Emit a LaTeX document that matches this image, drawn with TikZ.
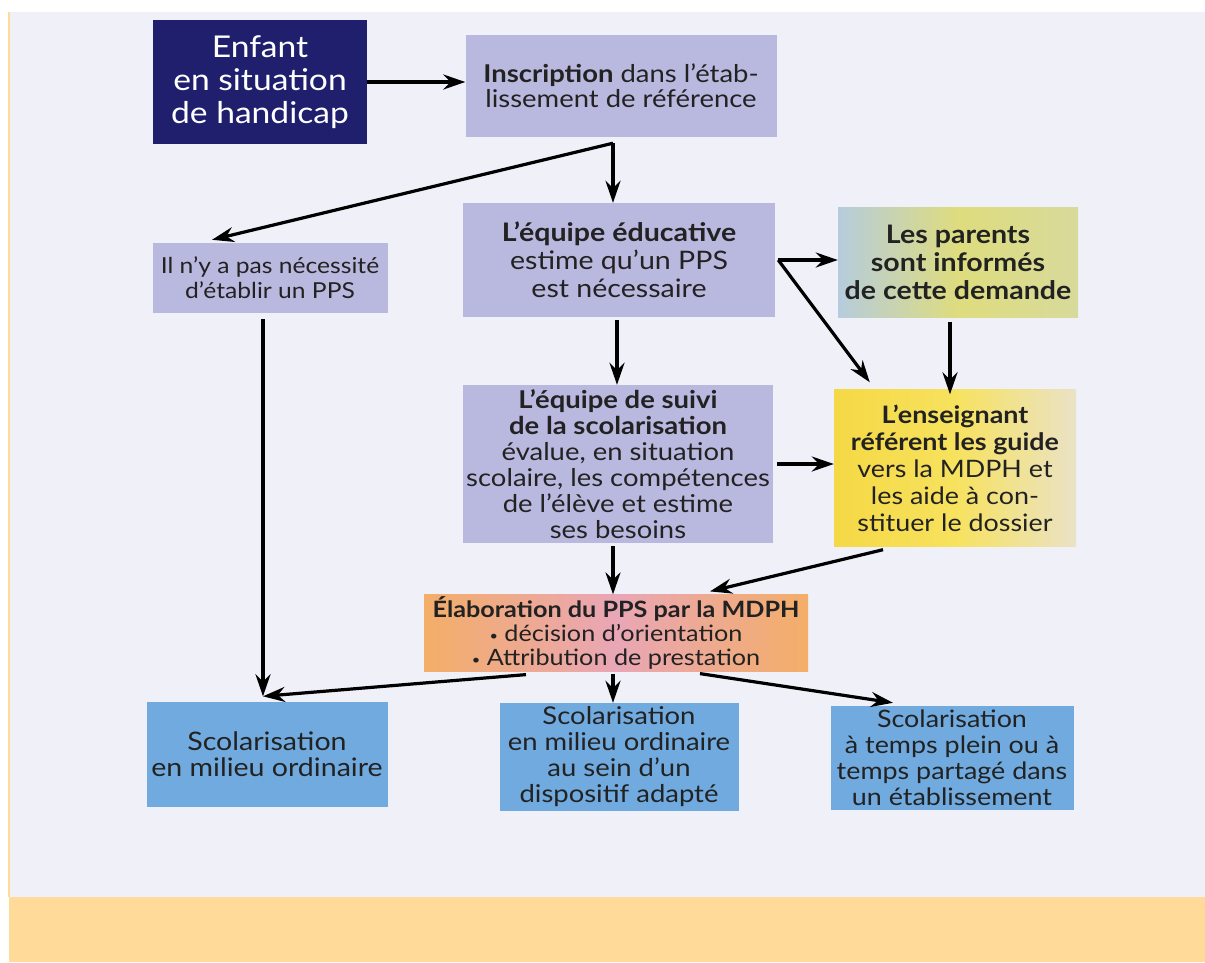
\documentclass[tikz,border=0pt]{standalone}
\usepackage{fontspec}
\setmainfont{Lato}[FakeStretch=1.12]
\usepackage{tikz}
\usetikzlibrary{arrows.meta,positioning,calc}

\definecolor{fond}{HTML}{F0F0F8}
\definecolor{bande}{HTML}{FFDA98}
\definecolor{marine}{HTML}{201F6E}
\definecolor{lavande}{HTML}{B9B8DF}
\definecolor{bleu}{HTML}{70AADE}
\definecolor{texte}{HTML}{222222}
\definecolor{ciel}{HTML}{B6CCDC}
\definecolor{anis}{HTML}{DEDC7E}
\definecolor{paille}{HTML}{D8DA9C}
\definecolor{jaune}{HTML}{F5D845}
\definecolor{jauneclair}{HTML}{F7E25E}
\definecolor{beige}{HTML}{EAE2C6}
\definecolor{orangé}{HTML}{F3AE68}
\definecolor{rose}{HTML}{E9A6B6}

\tikzset{
	boite/.style={rectangle, inner sep=2pt, align=center, text=texte, font=\fontsize{24.5}{26}\selectfont},
	fleche/.style={line width=3.2pt, -{Stealth[length=22pt, width=15pt]}}
}
\newcommand{\puce}{{\fontsize{13}{13}\selectfont\raisebox{1.5pt}{•}}~}

\begin{document}
\begin{tikzpicture}[x=1pt, y=1pt]

	%Fond
	\useasboundingbox (0,0) rectangle (1205,-962);
	\fill[white] (0,0) rectangle (1205,-962);
	\fill[fond] (9,-12) rectangle (1205,-897);
	\fill[bande] (9,-897) rectangle (1205,-962);
	\draw[bande, line width=1.5pt] (9,-12) -- (9,-897);

	%Boites
	\node[boite, fill=marine, text=white, minimum width=214pt, minimum height=124pt, font=\fontsize{30}{33}\selectfont] (enfant) at (260,-82) {Enfant\\en situation\\de handicap};
	\node[boite, fill=lavande, minimum width=311pt, minimum height=102pt, font=\fontsize{24.5}{25}\selectfont] (inscription) at (621,-86) {\textbf{Inscription} dans l'étab-\\lissement de référence};
	\node[boite, fill=lavande, minimum width=235pt, minimum height=70pt, font=\fontsize{22}{25}\selectfont] (pasPPS) at (270,-278) {Il n'y a pas nécessité\\d'établir un PPS};
	\node[boite, fill=lavande, minimum width=312pt, minimum height=114pt, font=\fontsize{25.5}{28}\selectfont] (equipe) at (619,-260) {\textbf{L'équipe éducative}\\estime qu'un PPS\\est nécessaire};
	\node[boite, left color=ciel, right color=paille, middle color=anis, minimum width=240pt, minimum height=110pt, font=\fontsize{25.5}{28}\selectfont] (parents) at (958,-262) {\textbf{Les parents}\\\textbf{sont informés}\\\textbf{de cette demande}};
	\node[boite, fill=lavande, minimum width=310pt, minimum height=158pt] (suivi) at (618,-464) {\textbf{L'équipe de suivi}\\\textbf{de la scolarisation}\\évalue, en situation\\scolaire, les compétences\\de l'élève et estime\\ses besoins};
	\node[boite, left color=jaune, right color=beige, middle color=jauneclair, minimum width=242pt, minimum height=157pt, font=\fontsize{24}{27}\selectfont] (enseignant) at (955,-468) {\textbf{L'enseignant}\\\textbf{référent les guide}\\vers la MDPH et\\les aide à con-\\stituer le dossier};
	\node[boite, left color=orangé, right color=orangé, middle color=rose, minimum width=384pt, minimum height=74pt, font=\fontsize{22.5}{24}\selectfont] (elab) at (616,-633) {\textbf{Élaboration du PPS par la MDPH}\\\puce décision d'orientation\\\puce Attribution de prestation};
	\node[boite, fill=bleu, minimum width=241pt, minimum height=105pt, font=\fontsize{25.5}{26}\selectfont] (scolA) at (267,-754) {Scolarisation\\en milieu ordinaire};
	\node[boite, fill=bleu, minimum width=239pt, minimum height=108pt] (scolB) at (619,-757) {Scolarisation\\en milieu ordinaire\\au sein d'un\\dispositif adapté};
	\node[boite, fill=bleu, minimum width=243pt, minimum height=104pt, font=\fontsize{24}{26}\selectfont] (scolC) at (952,-758) {Scolarisation\\à temps plein ou à\\temps partagé dans\\un établissement};

	%Points de depart
	\coordinate (depart) at ([xshift=-8pt, yshift=-6pt]inscription.south);
	\coordinate (arrivee) at ([xshift=-4pt, yshift=5pt]scolA.north);

	%Fleches
	\draw[fleche] (enfant.east) -- (enfant.east -| inscription.west);
	\draw[fleche] (depart) -- ([xshift=-58pt, yshift=3pt]pasPPS.north);
	\draw[fleche] (depart) -- (depart |- equipe.north);
	\draw[fleche] ([xshift=-7pt, yshift=-6pt]pasPPS.south) -- (arrivee);
	\draw[fleche] ([xshift=3pt]equipe.east) -- (equipe.east -| parents.west);
	\draw[fleche] ([xshift=3pt]equipe.east) -- ([xshift=36pt, yshift=7pt]enseignant.north west);
	\draw[fleche] ([xshift=-8pt, yshift=-5pt]parents.south) -- ([xshift=-8pt, yshift=-5pt]parents.south |- enseignant.north);
	\draw[fleche] ([xshift=-2pt, yshift=-3pt]equipe.south) -- ([xshift=-2pt]equipe.south |- suivi.north);
	\draw[fleche] ([xshift=4pt]suivi.east) -- (suivi.east -| enseignant.west);
	\draw[fleche] ([xshift=-5pt, yshift=-3pt]suivi.south) -- ([xshift=-5pt]suivi.south |- elab.north);
	\draw[fleche] ([xshift=-72pt, yshift=-3pt]enseignant.south) -- ([xshift=94pt, yshift=3pt]elab.north);
	\draw[fleche] ([xshift=-90pt, yshift=-3pt]elab.south) -- (arrivee);
	\draw[fleche] ([xshift=-3pt, yshift=-2pt]elab.south) -- ([xshift=-3pt]elab.south |- scolB.north);
	\draw[fleche] ([xshift=84pt, yshift=-2pt]elab.south) -- ([xshift=-59pt, yshift=3pt]scolC.north);

\end{tikzpicture}
\end{document}
